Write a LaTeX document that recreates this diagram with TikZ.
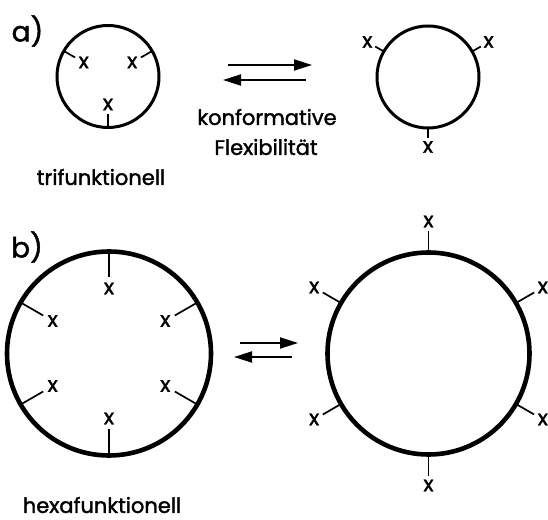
\documentclass[tikz,border=0pt]{standalone}
\usepackage{fontspec}
\setmainfont{Poppins}[FakeBold=1.6]
\usetikzlibrary{calc,arrows.meta}
\begin{document}
\begin{tikzpicture}[x=1pt,y=1pt,
  ring/.style={circle,draw,outer sep=0pt,inner sep=0pt,line width=#1},
  tick/.style={line width=1.7pt},
  xlab/.style={inner sep=0pt,font=\fontsize{21}{21}\selectfont},
  lbl/.style={inner sep=0pt,font=\fontsize{21}{21}\selectfont},
  part/.style={inner sep=0pt,font=\fontsize{28}{28}\selectfont},
  eq/.style={line width=1.8pt,-{Triangle[length=18pt,width=11pt]}}]
\useasboundingbox (0,0) rectangle (548,519);
% panel labels
\node[part] (pa) at (27.5,488) {a)};
\node[part] (pb) at (27,272) {b)};
% a) left ring, inner groups
\node[ring=3pt,minimum size=102pt] (LA) at (108,442.5) {};
\foreach \a/\n in {150/1,30/2,270/3}{
  \node[xlab] (LAx\n) at ($(LA.center)+(\a:28)$) {x};
  \draw[tick] (LA.\a) -- ($(LA.center)+(\a:38)$);
}
% a) right ring, outer groups
\node[ring=3pt,minimum size=102pt] (RA) at (428,442) {};
\foreach \a/\n in {150/1,30/2,270/3}{
  \node[xlab] (RAx\n) at ($(RA.center)+(\a:70)$) {x};
  \draw[tick] (RA.\a) -- ($(RA.center)+(\a:61)$);
}
% a) equilibrium arrows
\coordinate (a1s) at (228,454); \coordinate (a1e) at (312,454);
\coordinate (a2s) at (306,439); \coordinate (a2e) at (223,439);
\draw[eq] (a1s) -- (a1e);
\draw[eq] (a2s) -- (a2e);
\node[lbl] (konf) at (267,402) {konformative};
\node[lbl] (flex) at (266,372) {Flexibilität};
\node[lbl] (tri) at (101,342) {trifunktionell};
% b) left ring
\node[ring=4.6pt,minimum size=204pt] (LB) at (109,165.5) {};
\foreach \a/\n in {90/1,150/2,210/3,270/4,330/5,30/6}{
  \node[xlab] (LBx\n) at ($(LB.center)+(\a:65)$) {x};
  \draw[tick] (LB.\a) -- ($(LB.center)+(\a:76)$);
}
% b) right ring
\node[ring=4.6pt,minimum size=202pt] (RB) at (428.5,165.5) {};
\foreach \a/\n in {90/1,150/2,210/3,270/4,330/5,30/6}{
  \node[xlab] (RBx\n) at ($(RB.center)+(\a:132)$) {x};
  \draw[tick] (RB.\a) -- ($(RB.center)+(\a:122)$);
}
% b) equilibrium arrows
\coordinate (b1s) at (240,176); \coordinate (b1e) at (298,176);
\coordinate (b2s) at (292,162); \coordinate (b2e) at (234,162);
\draw[eq] (b1s) -- (b1e);
\draw[eq] (b2s) -- (b2e);
\node[lbl] (hexa) at (102,14) {hexafunktionell};
\end{tikzpicture}
\end{document}
